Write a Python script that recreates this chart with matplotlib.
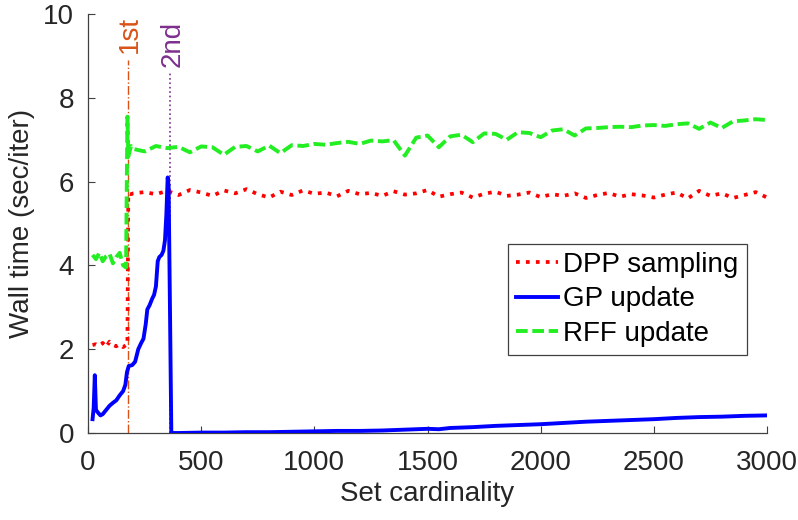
import matplotlib
matplotlib.use("Agg")
import matplotlib.pyplot as plt
import numpy as np

plt.rcParams['font.family'] = ['Liberation Sans', 'DejaVu Sans']

c_dpp = "#FF0000"
c_gp = "#0000FF"
c_rff = "#22EE22"
c_first = "#D95319"
c_second = "#7E2F8E"
c_axis = "#404040"

# ---- data ----
# GP update (blue)
gp_x = [20, 25, 30, 35, 45, 55, 65, 80, 95, 110, 125, 140, 155, 165, 172, 180,
        195, 208, 215, 222, 235, 245, 255, 262, 272, 283, 292, 300, 308, 315,
        325, 333, 340, 346, 352, 356, 362, 368, 400, 500, 600, 700, 800, 900,
        1000, 1100, 1200, 1300, 1400, 1500, 1550, 1600, 1700, 1800, 1900, 2000,
        2100, 2200, 2300, 2400, 2500, 2600, 2700, 2800, 2900, 3000]
gp_y = [0.33, 0.60, 1.38, 0.55, 0.48, 0.42, 0.45, 0.55, 0.65, 0.72, 0.78, 0.90,
        1.00, 1.15, 1.45, 1.60, 1.62, 1.70, 1.85, 2.00, 2.15, 2.25, 2.60, 2.95,
        3.05, 3.20, 3.30, 3.50, 4.10, 4.20, 4.25, 4.35, 4.60, 5.20, 6.10, 5.90,
        3.00, 0.00, 0.00, 0.01, 0.01, 0.02, 0.02, 0.03, 0.04, 0.05, 0.05, 0.06,
        0.08, 0.10, 0.09, 0.12, 0.14, 0.17, 0.19, 0.21, 0.24, 0.27, 0.29, 0.31,
        0.33, 0.36, 0.38, 0.39, 0.41, 0.42]

# DPP sampling (red) and RFF update (green): start segment, then every 50
pre_x = [20, 35, 50, 65, 80, 95, 110, 125, 140, 155, 168, 174, 178, 190]
dpp_pre = [2.10, 2.12, 2.08, 2.15, 2.05, 2.18, 2.10, 2.07, 2.12, 2.05, 2.10,
           2.10, 5.72, 5.70]
rff_pre = [4.25, 4.15, 4.30, 4.10, 4.22, 4.28, 4.05, 4.20, 4.30, 4.00, 3.95,
           7.55, 6.60, 6.85]

flat_x = list(range(200, 3001, 50))
dpp_flat = [5.72, 5.75, 5.70, 5.78, 5.68, 5.80, 5.74, 5.66, 5.79, 5.72,
            5.82, 5.70, 5.62, 5.76, 5.68, 5.79, 5.71, 5.74, 5.65, 5.78,
            5.70, 5.73, 5.66, 5.77, 5.69, 5.72, 5.80, 5.64, 5.70, 5.74,
            5.62, 5.71, 5.76, 5.66, 5.69, 5.74, 5.63, 5.70, 5.66, 5.72,
            5.61, 5.68, 5.73, 5.64, 5.70, 5.67, 5.62, 5.69, 5.74, 5.60,
            5.78, 5.66, 5.72, 5.61, 5.68, 5.75, 5.62]
rff_flat = [6.78, 6.72, 6.85, 6.80, 6.83, 6.70, 6.84, 6.82, 6.64, 6.83,
            6.85, 6.72, 6.86, 6.68, 6.87, 6.85, 6.90, 6.88, 6.92, 6.95,
            6.90, 6.98, 6.96, 6.99, 6.62, 7.05, 7.10, 6.82, 7.08, 7.12,
            6.94, 7.15, 7.14, 7.00, 7.18, 7.16, 7.06, 7.22, 7.25, 7.10,
            7.27, 7.28, 7.30, 7.31, 7.30, 7.34, 7.35, 7.33, 7.37, 7.39,
            7.26, 7.41, 7.28, 7.44, 7.46, 7.49, 7.47]

first_x = 175
second_x = 362
first_top = 8.9
second_top = 8.62

x_ticks = [0, 500, 1000, 1500, 2000, 2500, 3000]
y_ticks = [0, 2, 4, 6, 8, 10]

fig = plt.figure(figsize=(7.98, 5.2), dpi=100)
ax = fig.add_axes([0.1103, 0.1673, 0.8509, 0.8057])

ax.plot(pre_x + flat_x, dpp_pre + dpp_flat, linestyle=":", color=c_dpp,
        linewidth=2.7, label="DPP sampling", zorder=3)
ax.plot(gp_x, gp_y, linestyle="-", color=c_gp, linewidth=2.8,
        label="GP update", zorder=4)
ax.plot(pre_x + flat_x, rff_pre + rff_flat, linestyle=(0, (3, 1.2)),
        color=c_rff, linewidth=2.8, label="RFF update", zorder=3)

# markers for the two stages
ax.plot([first_x, first_x], [0, first_top], linestyle="-.", color=c_first,
        linewidth=1, zorder=2)
ax.plot([second_x, second_x], [0, second_top], linestyle=":", color=c_second,
        linewidth=1.2, zorder=2)
ax.text(first_x + 12, first_top + 0.18, "1st", rotation=90, color=c_first,
        fontsize=20, ha="center", va="bottom")
ax.text(second_x + 12, second_top + 0.12, "2nd", rotation=90, color=c_second,
        fontsize=20, ha="center", va="bottom")

ax.set_xlim(0, 3000)
ax.set_ylim(0, 10)
ax.set_xticks(x_ticks)
ax.set_yticks(y_ticks)
ax.tick_params(axis="both", direction="in", length=5, width=0.8,
               labelsize=20, colors=c_axis, labelcolor="#262626")
ax.tick_params(axis="x", pad=12)
ax.tick_params(axis="y", pad=10)
for side in ["top", "right"]:
    ax.spines[side].set_visible(False)
for side in ["left", "bottom"]:
    ax.spines[side].set_color(c_axis)
    ax.spines[side].set_linewidth(0.9)

ax.set_xlabel("Set cardinality", fontsize=20, color="#262626", labelpad=4)
ax.set_ylabel("Wall time (sec/iter)", fontsize=20, color="#262626", labelpad=6)

leg = ax.legend(loc="lower right", bbox_to_anchor=(0.97, 0.186), fontsize=20,
                frameon=True, fancybox=False, framealpha=1,
                edgecolor=c_axis, handlelength=1.5, handletextpad=0.2,
                borderpad=0.3, labelspacing=0.3, borderaxespad=0)
leg.get_frame().set_linewidth(0.9)

fig.savefig("out.png", dpi=100)
